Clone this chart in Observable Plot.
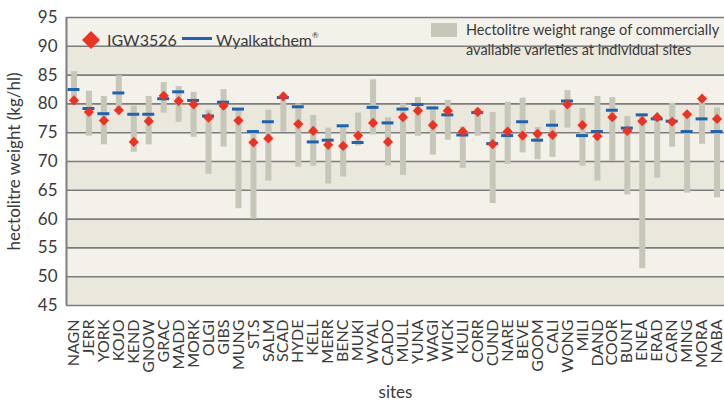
<!DOCTYPE html>
<html>
<head>
<meta charset="utf-8">
<script src="https://cdn.jsdelivr.net/npm/d3@7"></script>
<script src="https://cdn.jsdelivr.net/npm/@observablehq/plot@0.6"></script>
<style>
  html, body { margin: 0; padding: 0; background: #ffffff; }
  #chart { position: relative; width: 724px; height: 405px; }
</style>
</head>
<body>
<div id="chart"></div>
<script>
const sites = ["NAGN","JERR","YORK","KOJO","KEND","GNOW","GRAC","MADD","MORK","OLGI","GIBS","MUNG","ST.S","SALM","SCAD","HYDE","KELL","MERR","BENC","MUKI","WYAL","CADO","MULL","YUNA","WAGI","WICK","KULI","CORR","CUND","NARE","BEVE","GOOM","CALI","WONG","MILI","DAND","COOR","BUNT","ENEA","ERAD","CARN","MING","MORA","NABA"];

const igw3526 = [80.6,78.6,77.1,78.9,73.4,77.0,81.4,80.5,79.9,77.6,79.7,77.1,73.3,74.0,81.3,76.5,75.3,72.9,72.7,74.5,76.7,73.4,77.7,78.8,76.3,78.8,75.2,78.6,73.0,75.2,74.5,74.8,74.6,79.9,76.3,74.4,77.7,75.3,77.0,77.7,76.9,78.2,80.9,77.4];

const wyalkatchem = [82.5,79.2,78.3,81.9,78.2,78.2,80.9,82.1,80.6,77.9,80.3,79.1,75.2,76.9,81.1,79.5,73.4,73.7,76.2,73.3,79.4,76.7,79.1,79.9,79.3,78.1,74.6,78.5,73.1,74.5,76.9,73.7,76.3,80.5,74.5,75.2,78.9,75.8,78.1,77.4,77.0,75.2,77.4,75.2];

const rangeLow = [80.3,74.4,72.9,78.5,71.6,72.9,78.4,76.8,74.2,67.8,72.5,61.8,60.0,66.6,75.1,69.0,69.2,66.1,67.3,72.7,74.6,69.2,67.6,74.4,71.1,73.7,68.8,74.4,62.7,69.5,71.5,70.3,70.7,75.8,69.2,66.6,70.0,64.2,51.4,67.1,72.5,64.5,73.0,63.7];

const rangeHigh = [85.6,82.2,81.3,84.9,79.6,81.3,83.7,83.0,82.0,78.9,82.5,79.1,75.2,78.9,81.5,80.0,78.0,75.8,76.2,78.4,84.2,77.6,80.0,81.1,79.5,80.6,76.0,79.2,78.5,80.3,81.0,75.9,78.9,82.3,79.2,81.3,81.1,77.8,78.1,77.7,80.1,78.2,81.2,79.3];

const yTicks = [45,50,55,60,65,70,75,80,85,90,95];

const legendLabels = ["IGW3526", "Wyalkatchem", "Hectolitre weight range of commercially", "available varieties at individual sites"];
const yLabel = "hectolitre weight (kg/hl)";
const xLabel = "sites";

const data = sites.map((s, i) => ({site: s, igw: igw3526[i], wy: wyalkatchem[i], lo: rangeLow[i], hi: rangeHigh[i]}));

const bands = yTicks.slice(0, -1).map((t, i) => ({y1: t, y2: yTicks[i + 1], dark: i % 2 === 0}));

const FONT = "Lato, 'Open Sans', sans-serif";

const plot = Plot.plot({
  width: 724,
  height: 405,
  marginLeft: 66,
  marginRight: 0,
  marginTop: 17,
  marginBottom: 100,
  style: {fontFamily: FONT, color: "#3a3a3a", background: "transparent", overflow: "visible"},
  x: {domain: sites, padding: 0, label: null},
  y: {domain: [45, 95], label: null},
  marks: [
    Plot.rect(bands.filter(d => !d.dark), {y1: "y1", y2: "y2", fill: "#f3f1ea"}),
    Plot.rect(bands.filter(d => d.dark), {y1: "y1", y2: "y2", fill: "#eae7dc"}),
    Plot.ruleY(yTicks, {stroke: "#7d7d7d", strokeWidth: 1.6}),
    Plot.ruleX(data, {x: "site", y1: "lo", y2: "hi", stroke: "#c6c6b9", strokeWidth: 6}),
    Plot.tickY(data, {x: "site", y: "wy", stroke: "#1f62b0", strokeWidth: 3, insetLeft: 1.5, insetRight: 1.5}),
    Plot.dot(data, {x: "site", y: "igw", symbol: "diamond2", r: 4.6, fill: "#ea3323", stroke: "none"}),
    Plot.axisY(yTicks, {tickSize: 0, tickPadding: 9, fontSize: 17, label: null}),
    Plot.axisX({tickSize: 0, tickRotate: -90, tickPadding: 14, fontSize: 16, label: null}),
    Plot.text([yLabel], {frameAnchor: "left", textAnchor: "middle", lineAnchor: "middle", rotate: -90, dx: -52, fontSize: 17, fill: "#3a3a3a"}),
    Plot.text([xLabel], {frameAnchor: "bottom", textAnchor: "middle", lineAnchor: "middle", dy: 87, fontSize: 17, fill: "#3a3a3a"}),
    Plot.ruleX([sites[0]], {stroke: "#7d7d7d", strokeWidth: 2, dx: -7.5})
  ]
});

document.getElementById("chart").appendChild(plot);

// legend drawn on top of the plot area
const svg = d3.select(plot);
const lg = svg.append("g").attr("font-family", FONT).attr("fill", "#3a3a3a").attr("text-anchor", "start");
lg.append("path").attr("d", "M91,31 L100,40 L91,49 L82,40 Z").attr("fill", "#ea3323");
lg.append("text").attr("x", 107).attr("y", 46).attr("font-size", 16).text(legendLabels[0]);
lg.append("line").attr("x1", 182).attr("x2", 212).attr("y1", 38.5).attr("y2", 38.5).attr("stroke", "#1f62b0").attr("stroke-width", 3);
const wt = lg.append("text").attr("x", 216).attr("y", 46).attr("font-size", 16);
wt.append("tspan").text(legendLabels[1]);
wt.append("tspan").attr("font-size", 8).attr("dy", -8).text("®");
lg.append("rect").attr("x", 431).attr("y", 23).attr("width", 26).attr("height", 14).attr("fill", "#c6c6b9");
lg.append("text").attr("x", 466).attr("y", 35).attr("font-size", 14.5).text(legendLabels[2]);
lg.append("text").attr("x", 466).attr("y", 55).attr("font-size", 14.5).text(legendLabels[3]);
</script>
</body>
</html>
